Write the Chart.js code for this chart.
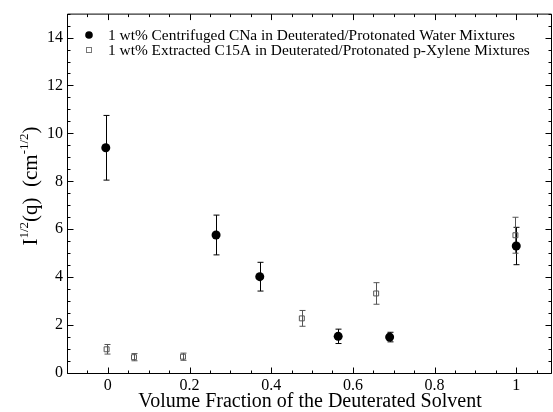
<!DOCTYPE html>
<html>
<head>
<meta charset="utf-8">
<script src="https://cdn.jsdelivr.net/npm/chart.js@4"></script>
<style>
  html, body { margin: 0; padding: 0; background: #fff; overflow: hidden; }
  #wrap { width: 553px; height: 412px; }
</style>
</head>
<body>
<div id="wrap"><canvas id="myChart"></canvas></div>
<script>
// data
const xCNa = [-0.005, 0.265, 0.372, 0.564, 0.69, 1.0];
const yCNa = [9.4, 5.76, 4.02, 1.53, 1.5, 5.3];
const eCNa = [1.35, 0.83, 0.6, 0.3, 0.2, 0.78];

const xC15A = [-0.003, 0.064, 0.184, 0.475, 0.657, 0.998];
const yC15A = [0.99, 0.66, 0.68, 2.28, 3.32, 5.75];
const eC15A = [0.2, 0.15, 0.15, 0.33, 0.45, 0.75];

const xTicks = [0, 0.2, 0.4, 0.6, 0.8, 1];
const yTicks = [0, 2, 4, 6, 8, 10, 12, 14];

const labelCNa = '1 wt% Centrifuged CNa in Deuterated/Protonated Water Mixtures';
const labelC15A = '1 wt% Extracted C15A in Deuterated/Protonated p-Xylene Mixtures';

const serif = '"Liberation Serif", "DejaVu Serif", serif';

function toPoints(xs, ys){
  return xs.map((x, i) => ({x: x, y: ys[i]}));
}

// error bars, drawn under the markers
const errorBars = {
  id: 'errorBars',
  beforeDatasetsDraw(chart){
    const ctx = chart.ctx;
    const yScale = chart.scales.y;
    chart.data.datasets.forEach((ds, di) => {
      const meta = chart.getDatasetMeta(di);
      ctx.save();
      ctx.strokeStyle = ds.errColor;
      ctx.lineWidth = 1;
      meta.data.forEach((pt, i) => {
        const v = ds.data[i].y, e = ds.errors[i];
        const x = Math.round(pt.x) + 0.5;
        const top = yScale.getPixelForValue(v + e);
        const bot = yScale.getPixelForValue(v - e);
        ctx.beginPath();
        ctx.moveTo(x, top); ctx.lineTo(x, bot);
        ctx.moveTo(x - 3, top); ctx.lineTo(x + 3, top);
        ctx.moveTo(x - 3, bot); ctx.lineTo(x + 3, bot);
        ctx.stroke();
      });
      ctx.restore();
    });
  }
};

// frame with inward major and minor ticks on all four sides
const frame = {
  id: 'frame',
  afterDraw(chart){
    const ctx = chart.ctx;
    const a = chart.chartArea;
    const xs = chart.scales.x, ys = chart.scales.y;
    const L = a.left + 0.5, R = a.right - 1.5, T = a.top + 0.5, B = a.bottom + 0.5;
    ctx.save();
    ctx.strokeStyle = '#000';
    ctx.lineWidth = 1;
    ctx.beginPath();
    ctx.rect(L, T, R - L, B - T);
    ctx.stroke();
    ctx.beginPath();
    for (let v = -0.1; v <= 1.1001; v += 0.05) {
      const major = Math.abs(v * 5 - Math.round(v * 5)) < 1e-6;
      const len = major ? 6 : 3;
      const x = Math.round(xs.getPixelForValue(v)) + 0.5;
      if (x > R) continue;
      ctx.moveTo(x, B); ctx.lineTo(x, B - len);
      ctx.moveTo(x, T); ctx.lineTo(x, T + len);
    }
    for (let v = 0; v <= 15.0001; v += 0.5) {
      const major = Math.abs(v / 2 - Math.round(v / 2)) < 1e-6;
      const len = major ? 6 : 3;
      const y = Math.round(ys.getPixelForValue(v)) + 0.5;
      ctx.moveTo(L, y); ctx.lineTo(L + len, y);
      ctx.moveTo(R, y); ctx.lineTo(R - len, y);
    }
    ctx.stroke();
    ctx.restore();
  }
};

// legend inside the plot, top left
const innerLegend = {
  id: 'innerLegend',
  afterDraw(chart){
    const ctx = chart.ctx;
    ctx.save();
    ctx.font = '15.4px ' + serif;
    ctx.fillStyle = '#000';
    ctx.textBaseline = 'middle';
    const rows = [35, 50];
    chart.data.datasets.forEach((ds, i) => {
      const y = rows[i];
      if (i === 0) {
        ctx.beginPath();
        ctx.arc(89, y, 3.8, 0, Math.PI * 2);
        ctx.fill();
      } else {
        ctx.strokeStyle = '#777';
        ctx.strokeRect(86.5, y - 2.5, 5, 5);
      }
      ctx.fillText(ds.label, 108, y + 1);
    });
    ctx.restore();
  }
};

// y title with superscripts
const yTitle = {
  id: 'yTitle',
  afterDraw(chart){
    const ctx = chart.ctx;
    const big = '21px ' + serif, small = '13px ' + serif;
    const parts = [
      ['I', big, 0], ['1/2', small, -9], ['(q)', big, 0], ['  (cm', big, 0],
      ['-1/2', small, -9], [')', big, 0]
    ];
    ctx.save();
    let total = 0;
    parts.forEach(p => { ctx.font = p[1]; total += ctx.measureText(p[0]).width; });
    ctx.translate(37, 186);
    ctx.rotate(-Math.PI / 2);
    ctx.fillStyle = '#000';
    ctx.textBaseline = 'alphabetic';
    let x = -total / 2;
    parts.forEach(p => {
      ctx.font = p[1];
      ctx.fillText(p[0], x, p[2]);
      x += ctx.measureText(p[0]).width;
    });
    ctx.restore();
  }
};

function myChart(){
  const ctx = document.getElementById('myChart');

  const data = {
    datasets: [{
      label: labelCNa,
      data: toPoints(xCNa, yCNa),
      errors: eCNa,
      errColor: '#000',
      pointStyle: 'circle',
      pointRadius: 4.5,
      backgroundColor: '#000',
      borderColor: '#000',
      borderWidth: 0
    }, {
      label: labelC15A,
      data: toPoints(xC15A, yC15A),
      errors: eC15A,
      errColor: '#555',
      pointStyle: 'rect',
      pointRadius: 3.5,
      backgroundColor: 'rgba(255,255,255,0)',
      borderColor: '#555',
      borderWidth: 1
    }]
  };

  new Chart(ctx, {
    type: 'scatter',
    data: data,
    plugins: [errorBars, frame, innerLegend, yTitle],
    options: {
      responsive: true,
      maintainAspectRatio: false,
      animation: false,
      layout: {
        autoPadding: false,
        padding: {top: 11, right: 0, left: 0, bottom: 0}
      },
      scales: {
        x: {
          type: 'linear',
          min: -0.1,
          max: 1.09,
          afterBuildTicks: s => { s.ticks = xTicks.map(v => ({value: v})); },
          afterFit: s => { s.height = 39; s.paddingLeft = 0; s.paddingRight = 0; },
          grid: {display: false, drawTicks: false},
          border: {display: false},
          ticks: {
            color: '#000',
            padding: 3,
            maxRotation: 0,
            callback: v => String(v),
            font: {family: serif, size: 16}
          },
          title: {
            display: true,
            text: 'Volume Fraction of the Deuterated Solvent',
            color: '#000',
            padding: 0,
            font: {family: serif, size: 20, lineHeight: 1}
          }
        },
        y: {
          min: 0,
          max: 15,
          afterBuildTicks: s => { s.ticks = yTicks.map(v => ({value: v})); },
          afterFit: s => { s.width = 67; },
          grid: {display: false, drawTicks: false},
          border: {display: false},
          ticks: {
            color: '#000',
            padding: 4,
            font: {family: serif, size: 16}
          }
        }
      },
      plugins: {
        legend: {display: false},
        tooltip: {enabled: false}
      }
    }
  });
}

myChart()
</script>
</body>
</html>
